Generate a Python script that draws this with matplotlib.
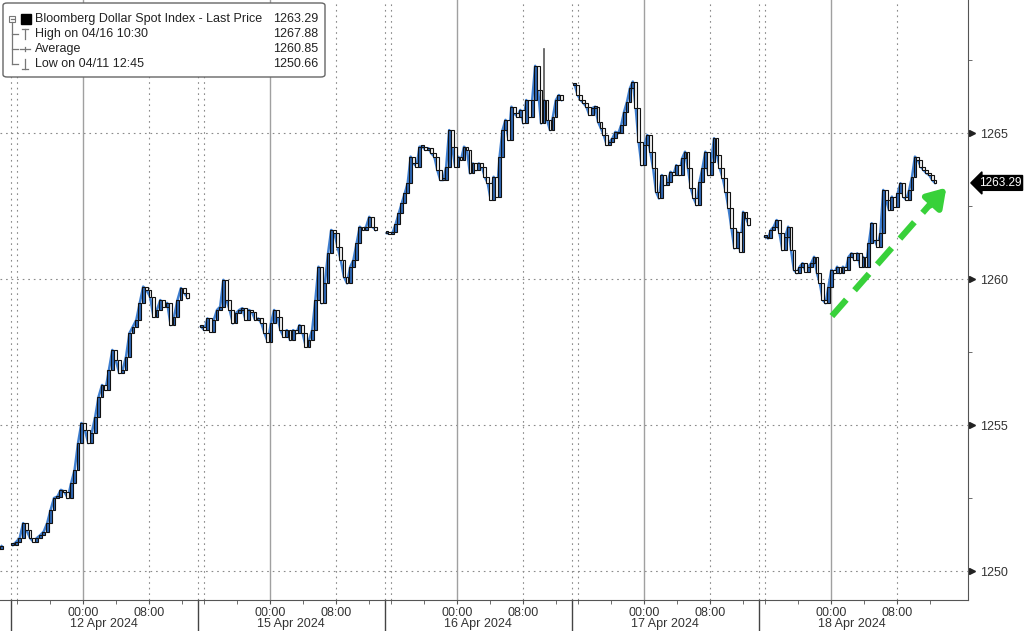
import matplotlib.pyplot as plt
import matplotlib.transforms as mtransforms
from matplotlib.patches import FancyBboxPatch, Rectangle
from matplotlib.lines import Line2D
import numpy as np

plt.rcParams['font.family'] = ['Liberation Sans', 'DejaVu Sans']

# ######################## Data ########################
days = ['12 Apr 2024', '15 Apr 2024', '16 Apr 2024', '17 Apr 2024', '18 Apr 2024']

# 30-ish minute closes per session
d12 = [1250.89, 1251.00, 1251.13, 1251.64, 1251.40, 1251.13, 1251.00, 1251.13, 1251.23,
       1251.35, 1251.64, 1252.09, 1252.50, 1252.55, 1252.78, 1252.72, 1252.50, 1253.01,
       1253.46, 1254.38, 1255.07, 1254.83, 1254.38, 1254.73, 1255.28, 1255.97, 1256.37,
       1256.20, 1256.88, 1257.57, 1257.23, 1256.78, 1256.88, 1257.34, 1258.15, 1258.37,
       1258.60, 1259.18, 1259.74, 1259.62, 1259.39, 1258.71, 1258.94, 1259.28, 1259.05,
       1259.18, 1258.42, 1258.71, 1259.28, 1259.69, 1259.52, 1259.35]
d15 = [1258.37, 1258.25, 1258.65, 1258.20, 1258.60, 1258.94, 1259.05, 1259.97, 1259.28,
       1258.94, 1258.48, 1258.83, 1258.94, 1259.00, 1258.60, 1258.94, 1258.88, 1258.60,
       1258.65, 1258.48, 1258.14, 1257.85, 1258.48, 1258.94, 1258.71, 1258.25, 1258.02,
       1258.25, 1257.91, 1258.25, 1258.14, 1258.42, 1258.14, 1257.68, 1257.91, 1258.25,
       1259.28, 1260.42, 1259.17, 1259.85, 1260.88, 1261.68, 1261.57, 1261.11, 1260.65,
       1260.08, 1259.85, 1260.42, 1260.65, 1261.22, 1261.79, 1261.68, 1261.79, 1262.13,
       1261.79, 1261.68]
d16 = [1261.57, 1261.55, 1261.60, 1261.90, 1262.25, 1262.59, 1262.93, 1263.28, 1264.19,
       1263.96, 1263.85, 1264.53, 1264.53, 1264.42, 1264.48, 1264.30, 1264.19, 1263.73,
       1263.39, 1263.39, 1263.85, 1265.10, 1264.53, 1263.85, 1264.19, 1264.08, 1264.53,
       1264.42, 1263.62, 1263.96, 1263.73, 1263.96, 1263.85, 1263.50, 1263.28, 1262.71,
       1263.50, 1262.82, 1264.19, 1265.10, 1265.45, 1264.76, 1265.90, 1265.67, 1265.56,
       1265.79, 1265.33, 1266.13, 1265.56, 1266.13, 1267.30, 1266.47, 1265.33, 1266.13,
       1265.45, 1265.10, 1265.56, 1266.13, 1266.30, 1266.13]
d17 = [1266.64, 1266.30, 1266.13, 1266.02, 1265.90, 1265.62, 1265.85, 1265.90, 1265.39,
       1265.16, 1264.93, 1264.59, 1264.70, 1264.82, 1265.04, 1264.99, 1265.27, 1265.73,
       1266.07, 1266.53, 1266.76, 1265.85, 1264.70, 1263.90, 1264.59, 1264.93, 1264.36,
       1263.79, 1262.99, 1262.76, 1263.56, 1263.22, 1263.33, 1263.67, 1263.56, 1263.90,
       1263.56, 1264.13, 1264.36, 1263.79, 1263.11, 1262.76, 1262.53, 1263.33, 1263.79,
       1264.36, 1263.56, 1264.02, 1264.82, 1264.25, 1263.79, 1263.45, 1262.99, 1262.42,
       1261.74, 1261.05, 1261.62, 1260.94, 1262.30, 1262.08, 1261.85]
d18 = [1261.45, 1261.39, 1261.68, 1261.79, 1262.02, 1261.57, 1260.99, 1261.45, 1261.79,
       1260.99, 1260.31, 1260.20, 1260.42, 1260.54, 1260.25, 1260.42, 1260.54, 1260.76,
       1260.20, 1259.85, 1259.28, 1259.17, 1259.74, 1260.31, 1260.20, 1260.42, 1260.20,
       1260.42, 1260.31, 1260.76, 1260.88, 1260.65, 1260.88, 1260.42, 1260.76, 1260.42,
       1261.22, 1261.91, 1261.34, 1261.11, 1261.57, 1263.05, 1262.71, 1262.36, 1262.82,
       1262.48, 1262.93, 1263.28, 1262.82, 1262.71, 1263.05, 1263.50, 1264.19, 1264.08,
       1263.85, 1263.73, 1263.62, 1263.56, 1263.39, 1263.29]
closes = [d12, d15, d16, d17, d18]

# first / last bar of each session, hours from that day's midnight
first_bar = [-8.5, -8.35, -8.5, -8.4, -8.0]
last_bar = [12.7, 12.8, 12.7, 12.7, 12.6]

# tail end of the 11 Apr session
prev_times = [12.5, 12.8]
prev_close = [1250.75, 1250.85]

high_val, high_day, high_time = 1267.88, 2, 10.5
last_price = 1263.29
avg_price = 1260.85
low_val = 1250.66

# ######################## Layout of the time axis ##########################
SESSION = 22.67   # hours shown per session
MID = 8.73        # midnight offset inside a session


def xpos(day, hours):
    return day * SESSION + MID + np.asarray(hours, dtype=float)


fig = plt.figure(figsize=(10.24, 6.31), dpi=100)
ax = fig.add_axes([0, 31 / 631, 968 / 1024, 600 / 631])
ax.set_xlim(-1.33, 116.0)
ax.set_ylim(1249.007, 1269.555)

# grid
dot = (0, (1.5, 3.5))
for v in [1250, 1255, 1260, 1265]:
    ax.axhline(v, color='#8a8a8a', ls=dot, lw=0.8, zorder=0)
for k in range(len(days)):
    ax.axvline(k * SESSION, color='#8a8a8a', ls=dot, lw=0.8, zorder=0)
    ax.axvline(xpos(k, -8), color='#8a8a8a', ls=dot, lw=0.8, zorder=0)
    ax.axvline(xpos(k, 8), color='#8a8a8a', ls=dot, lw=0.8, zorder=0)
    ax.axvline(xpos(k, 0), color='#a0a0a0', lw=1.0, zorder=0)

# ######################## Candles ##########################################
W = 0.34
all_x = [xpos(-1, prev_times)]
all_c = [np.array(prev_close)]
for k, c in enumerate(closes):
    all_x.append(xpos(k, np.linspace(first_bar[k], last_bar[k], len(c))))
    all_c.append(np.array(c))

for xs, cs in zip(all_x, all_c):
    op = np.concatenate([[cs[0]], cs[:-1]])
    ax.plot(xs, cs, color='#3f7fd0', lw=1.8, zorder=2)
    up = cs >= op
    hgt = np.maximum(np.abs(cs - op), 0.06)
    bot = np.minimum(cs, op)
    ax.bar(xs[up], hgt[up], bottom=bot[up], width=W, color='#2d66b3',
           edgecolor='#111111', lw=0.8, zorder=3)
    ax.bar(xs[~up], hgt[~up], bottom=bot[~up], width=W, color='#f2f2f2',
           edgecolor='#111111', lw=0.8, zorder=3)

# high of the period as a wick
xs16 = all_x[1 + high_day]
i_hi = np.argmin(np.abs(xs16 - xpos(high_day, high_time)))
ax.plot([xs16[i_hi]] * 2, [closes[high_day][i_hi], high_val], color='#555555', lw=1.2, zorder=2)

# ######################## Axes styling #####################################
for s in ['top', 'left']:
    ax.spines[s].set_visible(False)
ax.spines['bottom'].set_color('#555555')
ax.spines['right'].set_color('#555555')

ax.yaxis.tick_right()
ax.set_yticks([1250, 1255, 1260, 1265])
ax.set_yticks([1252.5, 1257.5, 1262.5, 1267.5], minor=True)
ax.tick_params(axis='y', which='major', length=0, pad=9, labelsize=9, labelcolor='#333333')
ax.tick_params(axis='y', which='minor', length=3, color='#555555')
ytr = mtransforms.blended_transform_factory(ax.transAxes, ax.transData)
ax.plot([1.004] * 4, [1250, 1255, 1260, 1265], ls='none', marker='>', ms=5,
        color='#222222', transform=ytr, clip_on=False)

maj, lab, mnr = [], [], []
for k in range(len(days)):
    maj += [xpos(k, 0), xpos(k, 8)]
    lab += ['00:00', '08:00']
    mnr += list(xpos(k, np.array([-8, -4, 4, 12])))
ax.set_xticks(maj)
ax.set_xticklabels(lab)
ax.set_xticks(mnr, minor=True)
ax.tick_params(axis='x', which='both', length=3, color='#555555', pad=2,
               labelsize=9, labelcolor='#333333')

xtr = mtransforms.blended_transform_factory(ax.transData, ax.transAxes)
for k, d in enumerate(days):
    ax.annotate(d, xy=(xpos(k, 0), 0), xycoords=xtr, xytext=(-13, -24),
                textcoords='offset pixels', ha='left', va='center',
                fontsize=9, color='#333333', annotation_clip=False)
    ax.plot([k * SESSION] * 2, [0, -0.055], color='#444444', lw=1.0,
            transform=xtr, clip_on=False)

# last price tag
ax.text(1.011, last_price, f'{last_price:.2f}', transform=ytr, ha='left', va='center',
        color='white', fontsize=8.5,
        bbox=dict(boxstyle='larrow,pad=0.12', fc='black', ec='black'))

# green dashed arrow
ax.plot([99.5, 112.0], [1258.73, 1262.75], color='#38d13a', lw=4.5,
        ls=(0, (3.5, 2)), solid_capstyle='butt', zorder=5)
ax.annotate('', xy=(113.6, 1263.2), xytext=(111.2, 1262.45),
            arrowprops=dict(arrowstyle='-|>,head_length=1.1,head_width=0.7',
                            color='#38d13a', lw=4.5), zorder=5)

# ######################## Legend box #######################################
def fx(px):
    return px / 1024


def fy(py):
    return 1 - py / 631


fig.patches.append(FancyBboxPatch((fx(3), fy(77)), fx(322), 74 / 631,
                                  boxstyle='round,pad=0,rounding_size=0.004',
                                  transform=fig.transFigure, fc='white', ec='#666666', lw=1.0))
rows = [('Bloomberg Dollar Spot Index - Last Price', f'{last_price:.2f}', 19),
        ('High on 04/16 10:30', f'{high_val:.2f}', 34),
        ('Average', f'{avg_price:.2f}', 49),
        ('Low on 04/11 12:45', f'{low_val:.2f}', 64)]
for name, val, py in rows:
    fig.text(fx(35), fy(py), name, ha='left', va='center', fontsize=9, color='#222222')
    fig.text(fx(318), fy(py), val, ha='right', va='center', fontsize=9, color='#222222')

g = '#777777'
fig.patches.append(Rectangle((fx(21), fy(24)), fx(10), 10 / 631, transform=fig.transFigure,
                             fc='black', ec='black'))
fig.patches.append(Rectangle((fx(9), fy(22)), fx(6), 6 / 631, transform=fig.transFigure,
                             fc='white', ec=g, lw=0.8))
segs = [((10.5, 13.5), (19, 19)), ((12, 12), (22, 64)), ((12, 18), (34, 34)),
        ((12, 18), (49, 49)), ((12, 18), (64, 64)),
        ((25, 25), (29, 39)), ((22, 28), (29, 29)),
        ((20, 30), (49, 49)), ((25, 25), (47, 51)),
        ((25, 25), (59, 69)), ((22, 28), (69, 69))]
for (x0, x1), (y0, y1) in segs:
    fig.add_artist(Line2D([fx(x0), fx(x1)], [fy(y0), fy(y1)], color=g, lw=0.9,
                          transform=fig.transFigure))

fig.savefig('out.png', dpi=100)
